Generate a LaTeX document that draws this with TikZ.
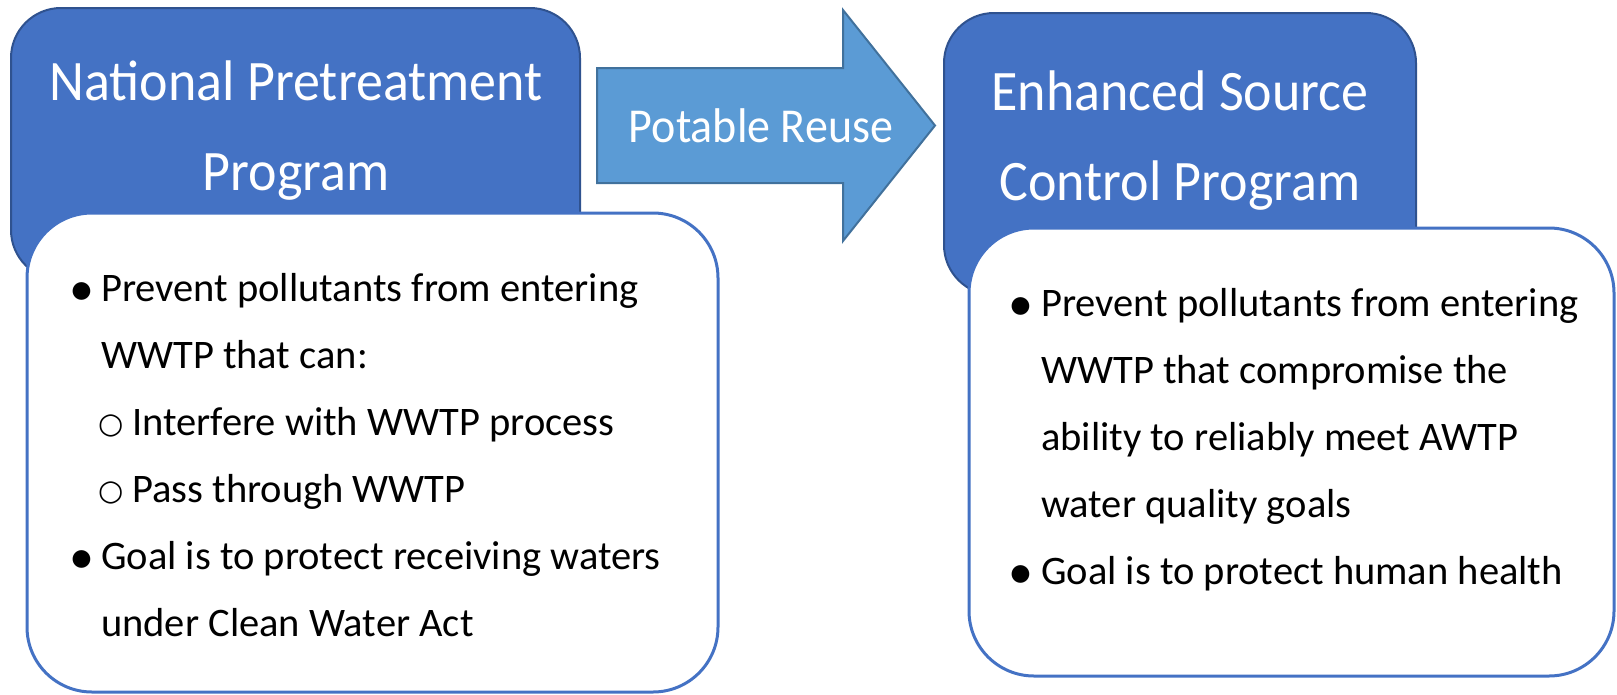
\documentclass[tikz,border=0pt]{standalone}
\usepackage{fontspec}
\setmainfont{Carlito}
\newfontfamily\symfont{DejaVu Sans}
\definecolor{blueA}{HTML}{4472C4}
\definecolor{blueEdge}{HTML}{2F528F}
\definecolor{arrowFill}{HTML}{5B9BD5}
\definecolor{arrowEdge}{HTML}{41719C}
\newcommand{\stretchy}[1]{\scalebox{1}[1.06]{#1}}
\newcommand{\bigdot}{\raisebox{-4pt}{\fontsize{50}{50}\selectfont •}}
\newcommand{\ring}{\raisebox{2pt}{○}}
\begin{document}
\begin{tikzpicture}[x=1pt,y=-1pt,
  bluebox/.style={draw=blueEdge, line width=2pt, fill=blueA, rounded corners=50pt, inner sep=0pt, outer sep=0pt, anchor=north west},
  whitebox/.style={draw=blueA, line width=3pt, fill=white, rounded corners=65pt, inner sep=0pt, outer sep=0pt, anchor=north west},
  arrowshape/.style={draw=arrowEdge, line width=2pt, fill=arrowFill, line join=miter},
  titletext/.style={text=white, font=\fontsize{54}{60}\selectfont, anchor=base, inner sep=0pt},
  arrowtext/.style={text=white, font=\fontsize{46}{52}\selectfont, anchor=base, inner sep=0pt},
  bodytext/.style={text=black, font=\fontsize{40.5}{48}\selectfont, anchor=base west, inner sep=0pt},
  bulletmark/.style={text=black, anchor=base, inner sep=0pt},
  subbullet/.style={text=black, font=\symfont\fontsize{29}{32}\selectfont, anchor=base, inner sep=0pt},
]
\useasboundingbox (0,0) rectangle (1617,694);

% blue header boxes
\node[bluebox, minimum width=569pt, minimum height=272pt] (nppbox) at (11,8) {};
\node[bluebox, minimum width=472pt, minimum height=282pt] (escbox) at (944,13) {};

% arrow
\coordinate (atail) at (597,125.5);
\coordinate (atip) at (935,125.5);
\draw[arrowshape] (atail |- 0,68) -- (843,68) -- (843,10) -- (atip) -- (843,241) -- (843,183) -- (atail |- 0,183) -- cycle;
\node[arrowtext] (reuse) at (761,142) {\stretchy{Potable Reuse}};

% titles
\node[titletext] (npp1) at (296,100) {\stretchy{National Pretreatment}};
\node[titletext] (npp2) at (296,190) {\stretchy{Program}};
\node[titletext] (esc1) at (1180,110) {\stretchy{Enhanced Source}};
\node[titletext] (esc2) at (1180,200) {\stretchy{Control Program}};

% white content boxes
\node[whitebox, minimum width=691pt, minimum height=479pt] (nppbody) at (27,213) {};
\node[whitebox, minimum width=645pt, minimum height=448pt] (escbody) at (969,228) {};

% left content
\node[bulletmark] (lb1) at (82,301) {\bigdot};
\node[bodytext] (l1) at (101,301) {Prevent pollutants from entering};
\node[bodytext] (l2) at (101,368) {WWTP that can:};
\node[subbullet] (ls1) at (111,435) {\ring};
\node[bodytext] (l3) at (132,435) {Interfere with WWTP process};
\node[subbullet] (ls2) at (111,502) {\ring};
\node[bodytext] (l4) at (132,502) {Pass through WWTP};
\node[bulletmark] (lb2) at (82,569) {\bigdot};
\node[bodytext] (l5) at (101,569) {Goal is to protect receiving waters};
\node[bodytext] (l6) at (101,636) {under Clean Water Act};

% right content
\node[bulletmark] (rb1) at (1021,316) {\bigdot};
\node[bodytext] (r1) at (1041,316) {Prevent pollutants from entering};
\node[bodytext] (r2) at (1041,383) {WWTP that compromise the};
\node[bodytext] (r3) at (1041,450) {ability to reliably meet AWTP};
\node[bodytext] (r4) at (1041,517) {water quality goals};
\node[bulletmark] (rb2) at (1021,584) {\bigdot};
\node[bodytext] (r5) at (1041,584) {Goal is to protect human health};
\end{tikzpicture}
\end{document}
